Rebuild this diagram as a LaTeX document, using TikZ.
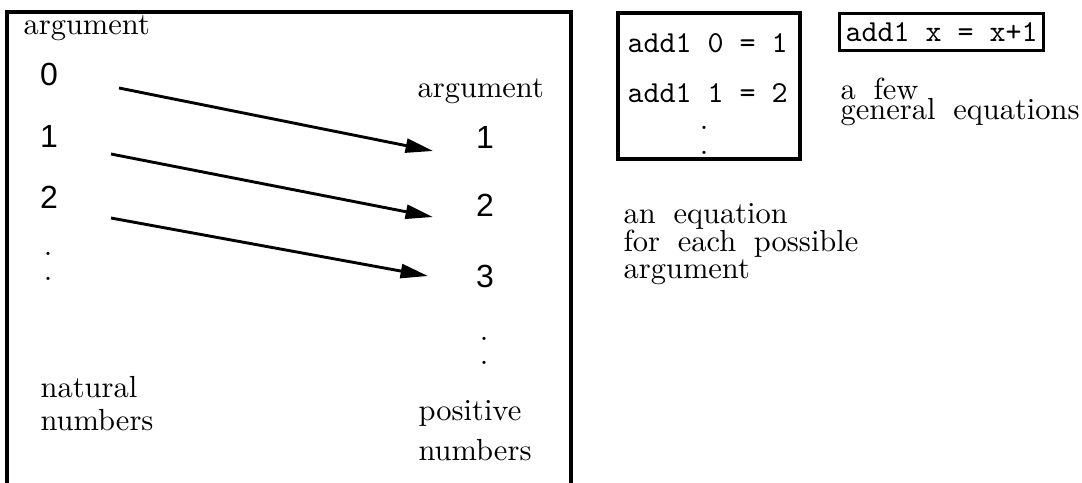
\documentclass[tikz,border=0pt]{standalone}
\usepackage{fontspec}
\newfontfamily\digitfont{Liberation Sans}
\newcommand\widegaps{\spaceskip 5.8pt plus 1pt\relax}
\usetikzlibrary{arrows.meta,fit}
\tikzset{
  lbl/.style={anchor=base west, inner sep=0pt, font=\widegaps},
  digit/.style={anchor=base, inner sep=0pt, font=\digitfont\fontsize{10.5}{12}\selectfont},
  eqn/.style={anchor=base west, inner sep=0pt, font=\ttfamily},
  dotmark/.style={anchor=base, inner sep=0pt},
  frame/.style={line width=1pt},
  maparrow/.style={-{Triangle[length=9pt,width=4.6pt]}, line width=0.95pt},
}

\begin{document}
\begin{tikzpicture}[x=0.328pt,y=-0.328pt]
  \useasboundingbox (0,0) rectangle (1082,482);

  % Open frame round the mapping
  \draw[frame] (7,490) -- (7,12) -- (571,12) -- (571,490);
  \node[lbl] (argleft) at (23,34) {argument};

  % Natural numbers
  \foreach \n/\y in {0/85, 1/147, 2/208}
    \node[digit] (nat\n) at (49,\y) {\n};
  \node[dotmark] (natdotA) at (48,255) {.};
  \node[dotmark] (natdotB) at (48,280) {.};
  \node[lbl] (natA) at (40,397) {natural};
  \node[lbl] (natB) at (40,430) {numbers};

  % Positive numbers
  \node[lbl] (argright) at (417,97) {argument};
  \foreach \n/\y in {1/148, 2/216, 3/287}
    \node[digit] (pos\n) at (485,\y) {\n};
  \node[dotmark] (posdotA) at (484,340) {.};
  \node[dotmark] (posdotB) at (484,364) {.};
  \node[lbl] (posA) at (418,420) {positive};
  \node[lbl] (posB) at (418,460) {numbers};

  % Mapping arrows
  \foreach \i/\sx/\sy/\tx/\ty in {0/119/88/433/151, 1/111/154/433/217, 2/111/218/428/276}{
    \coordinate (from\i) at (\sx,\sy);
    \coordinate (to\i) at (\tx,\ty);
    \draw[maparrow] (from\i) -- (to\i);
  }

  % One equation per argument
  \node[draw, frame, inner sep=0pt, fit={(618,13) (800,159)}] (tablebox) {};
  \node[eqn] (eqA) at (627,52) {add1 0 = 1};
  \node[eqn] (eqB) at (627,102) {add1 1 = 2};
  \node[dotmark] (eqdotA) at (704,129) {.};
  \node[dotmark] (eqdotB) at (704,154) {.};
  \node[lbl] (eachA) at (623,223) {an equation};
  \node[lbl] (eachB) at (623,251) {for each possible};
  \node[lbl] (eachC) at (623,278) {argument};

  % General equation
  \node[draw, frame, font=\ttfamily, inner xsep=2pt, inner ysep=3pt, anchor=north west] (genbox) at (838,12) {add1 x = x+1};
  \node[lbl] (fewA) at (840,99) {a few};
  \node[lbl] (fewB) at (840,119) {general equations};
\end{tikzpicture}
\end{document}
